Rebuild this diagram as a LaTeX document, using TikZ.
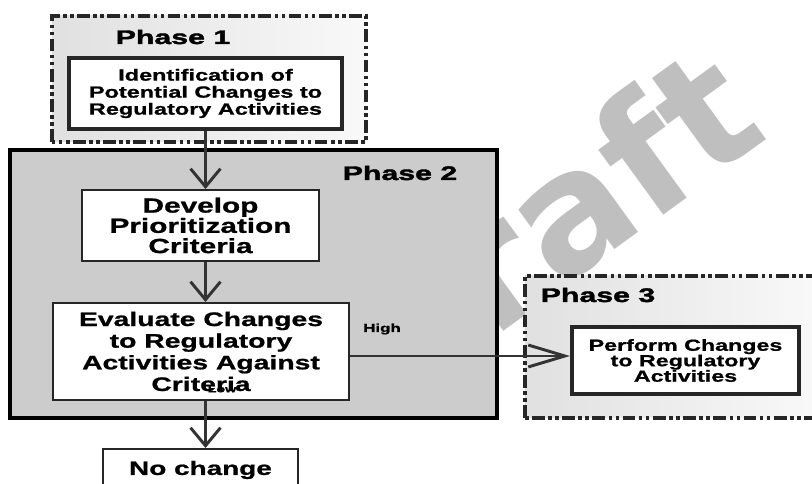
\documentclass[tikz,border=0pt]{standalone}
\usepackage{fontspec}
\usetikzlibrary{arrows.meta, calc}
\newfontfamily\boxfont[FakeStretch=1.45, FakeBold=1]{Liberation Sans Bold}
\newfontfamily\phasefont[FakeStretch=1.55, FakeBold=2]{Liberation Sans Bold}
\newfontfamily\markfont{DejaVu Sans Bold}

\begin{document}
\begin{tikzpicture}[
    phaseframe/.style={draw=black!85, line width=2.4pt,
      dash pattern=on 9pt off 2.5pt on 2.5pt off 2.5pt on 2.5pt off 2.5pt,
      left color=gray!24, right color=gray!5},
    stepbox/.style={draw=black!85, fill=white, line width=1.4pt,
      align=center, inner sep=0pt},
    keybox/.style={stepbox, line width=2.9pt},
    phasetitle/.style={font=\phasefont\fontsize{13.9}{14}\selectfont},
    choice/.style={font=\boxfont\fontsize{8.3}{9}\selectfont},
    flow/.style={draw=black!80, line width=2.1pt,
      -{Straight Barb[length=12.8pt, width=21.3pt]}}
]
\useasboundingbox (0,0) rectangle (20.3,12.1);
\clip (0,0) rectangle (20.3,12.1);
% watermark
\node[rotate=36, text=gray!50, font=\markfont\fontsize{118}{118}\selectfont]
  (draft) at (13.5,6.4) {Draft};
% phase frames
\path[phaseframe] (1.3,8.55) rectangle (9.15,11.7);
\path[draw=black, line width=2.9pt, fill=gray!40] (0.25,1.65) rectangle (12.425,8.35);
\path[phaseframe] (13.125,1.65) rectangle (20.4,5.2);
\node[phasetitle] (p1) at (4.325,11.175) {Phase 1};
\node[phasetitle] (p2) at (10.0,7.775)   {Phase 2};
\node[phasetitle] (p3) at (14.95,4.725)  {Phase 3};
% steps
\node[keybox, minimum width=6.825cm, minimum height=1.775cm,
  font=\boxfont\fontsize{11.5}{12.1}\selectfont] (ident) at (5.1375,9.7625)
  {Identification of\\Potential Changes to\\Regulatory Activities};
\node[stepbox, minimum width=5.925cm, minimum height=1.775cm,
  font=\boxfont\fontsize{14.6}{14.4}\selectfont] (develop) at (5.0125,6.4625)
  {Develop\\Prioritization\\Criteria};
\node[stepbox, minimum width=7.4cm, minimum height=2.425cm,
  font=\boxfont\fontsize{13.9}{15.4}\selectfont] (evaluate) at (5.025,3.3125)
  {Evaluate Changes\\to Regulatory\\Activities Against\\Criteria};
\node[stepbox, minimum width=4.875cm, minimum height=1.05cm,
  font=\boxfont\fontsize{13.7}{14}\selectfont] (nochange) at (5.0125,0.35)
  {No change};
\node[keybox, minimum width=5.675cm, minimum height=1.675cm,
  font=\boxfont\fontsize{11.4}{11}\selectfont] (perform) at (17.1375,3.0875)
  {Perform Changes\\to Regulatory\\Activities};
\node[choice] (high) at (9.55,3.875) {High};
\node[choice, font=\boxfont\fontsize{7}{8}\selectfont] (low) at (5.55,2.375) {Low};
% connectors
\draw[flow] (ident.south) -- (ident.south |- develop.north);
\draw[flow] (ident.south |- develop.south) -- (ident.south |- evaluate.north);
\draw[flow] (ident.south |- evaluate.south) -- (ident.south |- nochange.north);
\coordinate (mid) at ($(evaluate.east)!0.5!(perform.west)$);
\draw[flow, -{Straight Barb[length=26pt, width=15.6pt]}]
  (evaluate.east |- mid) -- (perform.west |- mid);
\end{tikzpicture}
\end{document}
